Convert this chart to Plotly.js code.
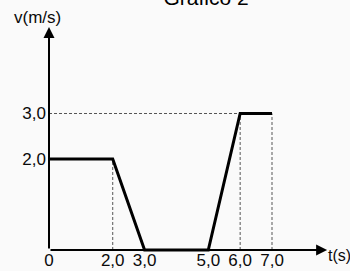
<!DOCTYPE html>
<html><head><meta charset="utf-8">
<script src="https://cdn.plot.ly/plotly-3.0.1.min.js"></script>
<style>html,body{margin:0;padding:0;background:#fafafa}#chart{width:350px;height:271px}</style>
</head><body><div id="chart"></div>
<script>
const time = [0, 2, 3, 5, 6, 7];
const velocity = [2, 2, 0, 0, 3, 3];
const xTickVals = [0, 2, 3, 5, 6, 7];
const xTickText = ['0', '2,0', '3,0', '5,0', '6,0', '7,0'];
const yTickVals = [2, 3];
const yTickText = ['2,0', '3,0'];
const dropGuides = [1, 4, 5];
const levelGuides = [4];
const xAxisEnd = 8.73;
const yAxisEnd = 4.9;

const font = {family: 'Liberation Sans, Arial, sans-serif', size: 17, color: '#0a0a0a'};
const dashStyle = {color: '#555', width: 1, dash: '3px,2px'};
const traces = [];
dropGuides.forEach(i => traces.push({x: [time[i], time[i]], y: [0, velocity[i]], mode: 'lines', line: dashStyle, hoverinfo: 'skip'}));
levelGuides.forEach(i => traces.push({x: [0, time[i]], y: [velocity[i], velocity[i]], mode: 'lines', line: dashStyle, hoverinfo: 'skip'}));
traces.push({x: time, y: velocity, mode: 'lines', line: {color: '#000', width: 3}});

const arrow = (x, y) => ({x: x, y: y, ax: 0, ay: 0, xref: 'x', yref: 'y', axref: 'x', ayref: 'y', text: '', showarrow: true, arrowhead: 2, arrowsize: 1.1, arrowwidth: 2, arrowcolor: '#000'});

const layout = {
  width: 350, height: 271,
  margin: {l: 39, r: 0, t: 0, b: 10},
  paper_bgcolor: '#fafafa', plot_bgcolor: '#fafafa',
  showlegend: false,
  font: font,
  title: {text: 'Gráfico 2', x: 206/350, xanchor: 'center', xref: 'container', y: 1 - 5/271, yanchor: 'bottom', yref: 'container', font: {family: 'Liberation Sans, Arial, sans-serif', size: 21, color: '#000'}},
  xaxis: {range: [-0.314, 9.448], anchor: 'free', position: 0.0421, showgrid: false, zeroline: false, showline: false, ticks: '', ticklabelstandoff: -2, tickvals: xTickVals, ticktext: xTickText, tickfont: font, fixedrange: true},
  yaxis: {range: [-0.242, 5.495], anchor: 'free', position: 0.0322, showgrid: false, zeroline: false, showline: false, ticks: '', ticklabelstandoff: 3, tickvals: yTickVals, ticktext: yTickText, tickfont: font, fixedrange: true},
  annotations: [
    arrow(xAxisEnd, 0), arrow(0, yAxisEnd),
    {text: 'v(m/s)', xref: 'paper', yref: 'paper', x: (37-39)/311, y: (261-17)/261, xanchor: 'center', yanchor: 'middle', showarrow: false, font: font},
    {text: 't(s)', xref: 'paper', yref: 'paper', x: (326-39)/311, y: (261-255)/261, xanchor: 'left', yanchor: 'middle', showarrow: false, font: {family: 'Liberation Sans, Arial, sans-serif', size: 16, color: '#0a0a0a'}}
  ]
};
Plotly.newPlot('chart', traces, layout, {displayModeBar: false, staticPlot: true});
</script></body></html>
